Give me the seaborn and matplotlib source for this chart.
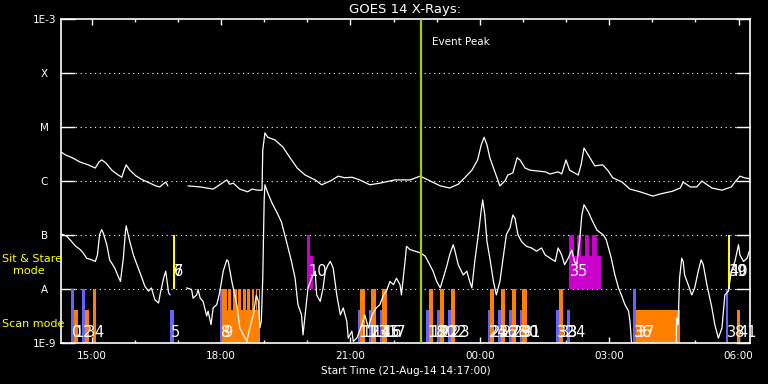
import matplotlib
matplotlib.use("Agg")
import matplotlib.pyplot as plt
from matplotlib.ticker import NullLocator
import numpy as np
import pandas as pd
import seaborn as sns

# ── time base: minutes after 21-Aug-14 14:17:00 ──────────────────────────────
START_HOUR = 14 + 17 / 60
END_MIN = 959
EVENT_PEAK_MIN = 500.7

# GOES 14 long channel (1-8 A): minutes / log10 flux, with a data gap
long_min_a = [0, 7, 16, 27, 38, 48, 53, 57, 63, 71, 80, 85, 88, 91, 96, 105, 114,
              124, 132, 138, 142, 146, 149]
long_log_a = [-5.46, -5.52, -5.57, -5.65, -5.70, -5.76, -5.65, -5.61, -5.67, -5.80,
              -5.89, -5.93, -5.80, -5.70, -5.80, -5.91, -5.98, -6.04, -6.09, -6.11,
              -6.06, -6.02, -6.09]
long_min_b = [177, 194, 203, 212, 221, 231, 235, 240, 249, 260, 266, 274, 280, 281,
              284, 288, 298, 309, 319, 329, 340, 354, 363, 375, 386, 395, 405, 416,
              430, 444, 465, 486, 500, 511, 528, 541, 553, 562, 572, 580, 585, 589,
              593, 597, 604, 611, 618, 622, 629, 635, 639, 646, 653, 674, 681, 692,
              697, 703, 708, 720, 724, 728, 734, 743, 754, 761, 768, 781, 792, 806,
              824, 834, 851, 862, 866, 876, 885, 892, 906, 920, 933, 938, 945, 951, 959]
long_log_b = [-6.09, -6.11, -6.13, -6.15, -6.07, -5.98, -6.06, -6.04, -6.15, -6.20,
              -6.15, -6.17, -6.17, -5.43, -5.11, -5.19, -5.24, -5.37, -5.57, -5.76,
              -5.89, -5.98, -6.07, -6.00, -5.91, -5.94, -5.93, -5.98, -6.07, -6.04,
              -5.98, -5.98, -5.91, -5.98, -6.09, -6.13, -6.06, -5.94, -5.80, -5.61,
              -5.33, -5.19, -5.33, -5.57, -5.83, -6.09, -6.00, -5.89, -5.85, -5.57,
              -5.61, -5.76, -5.80, -5.83, -5.87, -5.83, -5.87, -5.61, -5.80, -5.89,
              -5.70, -5.39, -5.52, -5.72, -5.70, -5.80, -5.94, -6.02, -6.15, -6.20,
              -6.28, -6.24, -6.19, -6.13, -6.02, -6.11, -6.11, -6.00, -6.13, -6.17,
              -6.11, -6.02, -5.91, -5.94, -5.96]

# GOES 14 short channel (0.5-4 A)
short_min_a = [0, 8, 15, 20, 27, 31, 36, 43, 48, 51, 54, 57, 59, 64, 68, 75, 80, 83,
               87, 90, 91, 96, 101, 106, 113, 117, 122, 126, 131, 136, 138, 143, 146,
               150, 152]
short_log_a = [-6.98, -7.02, -7.12, -7.20, -7.27, -7.33, -7.43, -7.46, -7.49, -7.37,
               -6.99, -6.90, -6.96, -7.18, -7.46, -7.61, -7.77, -7.86, -7.43, -6.93,
               -6.83, -7.12, -7.37, -7.55, -7.80, -7.95, -8.04, -7.98, -8.20, -8.26,
               -8.11, -7.80, -7.67, -8.07, -8.11]
short_min_b = [175, 182, 184, 189, 191, 194, 198, 203, 205, 209, 212, 217, 221, 226,
               231, 233, 238, 245, 249, 254, 259, 263, 268, 272, 275, 277, 279, 281,
               283, 284, 288, 294, 301, 307, 314, 321, 326, 330, 335, 337, 340, 342,
               344, 349, 354, 356, 361, 365, 368, 372, 375, 379, 384, 389, 393, 398,
               400, 405, 407, 412, 419, 423, 428, 433, 439, 444, 449, 453, 458, 463,
               467, 472, 474, 479, 481, 486, 493, 500, 507, 511, 518, 523, 528, 532,
               537, 541, 546, 548, 553, 560, 565, 569, 572, 576, 581, 585, 587, 590,
               593, 597, 602, 606, 611, 616, 620, 625, 629, 632, 636, 641, 648, 655,
               662, 669, 674, 681, 688, 692, 697, 701, 706, 711, 715, 718, 722, 725,
               728, 734, 739, 746, 755, 759, 766, 771, 776, 780, 785, 790, 792, 794,
               797, 856, 857, 859, 861, 864, 866, 868, 873, 878, 882, 887, 891, 894,
               899, 903, 906, 910, 915, 920, 924, 929, 933, 938, 943, 945, 950, 955, 958]
short_log_b = [-7.98, -8.01, -8.17, -8.11, -8.01, -8.17, -8.23, -8.50, -8.41, -8.66,
               -8.35, -8.29, -8.07, -7.67, -7.46, -7.49, -7.86, -8.29, -8.72, -8.85,
               -8.97, -8.72, -8.48, -8.11, -8.23, -8.72, -8.60, -7.80, -6.35, -6.07,
               -6.22, -6.41, -6.59, -6.76, -7.12, -7.49, -7.80, -8.29, -8.48, -8.85,
               -8.48, -8.23, -7.98, -7.80, -7.67, -8.11, -8.23, -7.98, -7.67, -7.55,
               -7.49, -7.61, -8.11, -8.48, -8.35, -8.60, -8.91, -8.78, -8.97, -8.91,
               -8.66, -8.48, -8.72, -8.48, -8.35, -8.29, -8.11, -8.04, -7.86, -7.92,
               -7.80, -7.92, -8.11, -7.49, -7.21, -7.27, -7.30, -7.33, -7.39, -7.49,
               -7.67, -7.86, -7.98, -7.80, -7.58, -7.37, -7.18, -7.27, -7.55, -7.74,
               -7.67, -7.86, -7.98, -7.49, -6.99, -6.54, -6.35, -6.63, -7.12, -7.43,
               -7.86, -8.11, -7.86, -7.37, -6.99, -6.87, -6.63, -6.69, -6.99, -7.12,
               -7.21, -7.24, -7.30, -7.24, -7.37, -7.43, -7.49, -7.24, -7.37, -7.55,
               -7.43, -7.28, -7.50, -7.54, -7.09, -6.63, -6.44, -6.57, -6.72, -6.91,
               -7.00, -7.09, -7.43, -7.74, -7.98, -8.11, -8.29, -8.41, -8.60, -8.97,
               -9.20, -9.20, -8.54, -8.66, -7.80, -7.43, -7.49, -7.74, -7.92, -8.11,
               -7.98, -7.67, -7.46, -7.55, -7.92, -8.17, -8.35, -8.66, -8.91, -8.72,
               -8.11, -8.04, -7.67, -7.49, -7.18, -7.37, -7.49, -7.43, -7.30]

# IRIS observations: id, start/end minutes, mode, colour, log10 top of block
obs_id = list(range(42))
obs_start = [14.2, 17.9, 29.5, 33.2, 44.4, 151.9, 156.1, 156.1, 221.5, 224.3, 342.5,
             413.0, 416.7, 428.3, 431.6, 444.1, 447.3, 452.4, 508.1, 512.3, 523.4,
             527.5, 538.7, 542.4, 593.9, 597.5, 608.2, 612.0, 623.5, 627.3, 638.4,
             641.6, 688.9, 692.6, 704.2, 707.0, 795.6, 799.8, 925.0, 928.2, 928.2, 940.7]
obs_end = [17.9, 23.5, 33.2, 38.8, 48.6, 157.5, 158.9, 158.9, 224.3, 277.1, 350.4,
           416.7, 422.8, 431.6, 438.1, 447.3, 453.4, 453.4, 512.3, 518.2, 527.5,
           533.5, 542.4, 548.4, 597.5, 603.1, 612.0, 618.0, 627.3, 633.3, 641.6,
           648.6, 692.6, 698.6, 707.9, 751.5, 799.8, 861.3, 928.6, 931.0, 931.0, 944.5]
obs_color = ["blue", "orange", "blue", "orange", "orange", "blue", "yellow", "yellow",
             "blue", "orange", "magenta"] + ["blue", "orange"] * 3 + ["orange"] + \
            ["blue", "orange"] * 8 + ["blue", "magenta", "blue", "orange", "blue",
                                      "yellow", "yellow", "orange"]
obs_mode = ["sit" if c in ("yellow", "magenta") else "scan" for c in obs_color]
obs_top = [-8, -8.38, -8, -8.38, -8, -8.38, -7, -7, -8, -8.38, -7.39] + \
          [-8.38, -8] * 3 + [-8] + [-8.38, -8] * 8 + \
          [-8.38, -7.39, -8, -8.38, -8, -7, -7, -8.38]

# full-height rasters inside the long observations 9, 10 and 35
raster_obs = [9] * 9 + [10] + [35] * 4
raster_start = [224.3, 233.2, 239.2, 246.8, 253.1, 259.3, 265.6, 271.2, 275.4,
                342.5, 707.0, 718.2, 728.9, 739.5]
raster_end = [231.3, 237.2, 244.8, 251.1, 257.3, 263.6, 269.2, 273.4, 277.1,
              346.7, 714.0, 723.7, 734.9, 745.6]

ytick_exp = [-9, -8, -7, -6, -5, -4, -3]
ytick_labels = ["1E-9", "A", "B", "C", "M", "X", "1E-3"]
grid_exp = [-8, -7, -6, -5, -4]
xtick_hours = [15, 18, 21, 24, 27, 30]

COLORS = {"blue": "#6464ff", "orange": "#ff8000", "yellow": "#ffff00",
          "magenta": "#cc00cc"}
MODE_BOTTOM = {"scan": 1e-9, "sit": 1e-8}
MODE_FULL = {"scan": 1e-8, "sit": 1e-7}
MODE_LABEL_Y = {"scan": 10 ** -8.8, "sit": 10 ** -7.68}


def to_hours(minutes):
    return START_HOUR + np.asarray(minutes, dtype=float) / 60.0


sns.set_theme(style="ticks", rc={"axes.facecolor": "black", "figure.facecolor": "black",
                                 "axes.edgecolor": "white", "text.color": "white"})
plt.rcParams["font.family"] = ["DejaVu Sans"]

fig = plt.figure(figsize=(7.68, 3.84), dpi=100)
ax = fig.add_axes([60.8 / 768, 1 - 343 / 384, (750 - 60.8) / 768, 324 / 384])
ax.set_yscale("log")

# observation blocks
bottoms = np.array([MODE_BOTTOM[m] for m in obs_mode])
tops = 10.0 ** np.array(obs_top)
x0 = to_hours(obs_start)
ax.bar(x0, tops - bottoms, width=to_hours(obs_end) - x0, bottom=bottoms, align="edge",
       color=[COLORS[c] for c in obs_color], linewidth=0, zorder=2)

r_mode = [obs_mode[i] for i in raster_obs]
r_bottom = np.array([MODE_BOTTOM[m] for m in r_mode])
r_top = np.array([MODE_FULL[m] for m in r_mode])
rx0 = to_hours(raster_start)
ax.bar(rx0, r_top - r_bottom, width=to_hours(raster_end) - rx0, bottom=r_bottom,
       align="edge", color=[COLORS[obs_color[i]] for i in raster_obs], linewidth=0,
       zorder=2)

for e in grid_exp:
    ax.axhline(10.0 ** e, color="white", lw=0.8, ls=(0, (1, 3.3)), zorder=1)

# GOES curves
segs = [("long_a", long_min_a, long_log_a), ("long_b", long_min_b, long_log_b),
        ("short_a", short_min_a, short_log_a), ("short_b", short_min_b, short_log_b)]
df = pd.concat([pd.DataFrame({"t": to_hours(m), "flux": 10.0 ** np.array(lg), "seg": n})
                for n, m, lg in segs], ignore_index=True)
sns.lineplot(data=df, x="t", y="flux", units="seg", estimator=None, sort=False,
             color="white", linewidth=0.9, ax=ax, zorder=3, legend=False)

peak_h = to_hours(EVENT_PEAK_MIN)
ax.axvline(peak_h, color="#a0d000", lw=1.6, zorder=3.5)
ax.annotate("Event Peak", xy=(peak_h, 0.9275), xycoords=("data", "axes fraction"),
            xytext=(8, 0), textcoords="offset points", color="white", fontsize=7.5,
            ha="left", va="center")

for i, s, m in zip(obs_id, obs_start, obs_mode):
    ax.annotate(str(i), xy=(to_hours(s), MODE_LABEL_Y[m]), xytext=(0.8, 0),
                textcoords="offset points", color="white", fontsize=10.5,
                ha="left", va="center", zorder=5)

ax.set_xlim(START_HOUR, to_hours(END_MIN))
ax.set_ylim(1e-9, 1e-3)
ax.grid(False)

ax.set_yticks(10.0 ** np.array(ytick_exp), labels=ytick_labels)
ax.yaxis.set_minor_locator(NullLocator())
ax.tick_params(axis="y", which="major", direction="in", length=10, width=1,
               colors="white", left=True, right=True, labelsize=7.5, pad=12)
for lab in ax.get_yticklabels():
    lab.set_horizontalalignment("center")

ax.set_xticks(xtick_hours, labels=[f"{h % 24:02d}:00" for h in xtick_hours])
ax.set_xticks(np.arange(15, 31), minor=True)
ax.tick_params(axis="x", which="major", direction="in", length=4.3, width=1,
               colors="white", top=True, bottom=True, labelsize=7.5, pad=6)
ax.tick_params(axis="x", which="minor", direction="in", length=2.2, width=1,
               colors="white", top=True, bottom=True)
for sp in ax.spines.values():
    sp.set_color("white")
    sp.set_linewidth(1.2)

ax.set_title("GOES 14 X-Rays:", color="white", fontsize=9.5, pad=4)
ax.set_xlabel("Start Time (21-Aug-14 14:17:00)", color="white", fontsize=7.5,
              labelpad=3)
ax.set_ylabel("")

fig.text(2 / 768, 1 - 259 / 384, "Sit & Stare", color="yellow", fontsize=8,
         ha="left", va="center")
fig.text(12.7 / 768, 1 - 271 / 384, "mode", color="yellow", fontsize=8,
         ha="left", va="center")
fig.text(2 / 768, 1 - 324 / 384, "Scan mode", color="yellow", fontsize=8,
         ha="left", va="center")

fig.savefig("out.png", dpi=100, facecolor="black")
